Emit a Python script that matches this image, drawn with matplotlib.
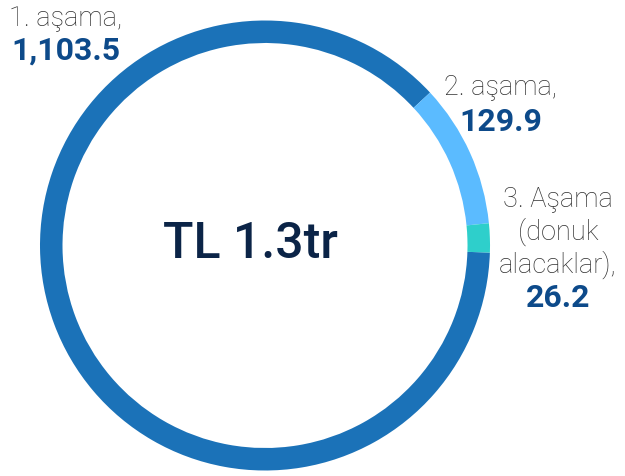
import matplotlib
matplotlib.use("Agg")
import matplotlib.pyplot as plt

# Data
stages = ["1. aşama,", "2. aşama,", "3. Aşama\n(donuk\nalacaklar),"]
values = [1103.5, 129.9, 26.2]
value_labels = ["1,103.5", "129.9", "26.2"]
total_label = "TL 1.3tr"

colors = ["#1b72b8", "#5bbbff", "#2ecfcb"]
label_color = "#333333"
value_color = "#0d4a8a"
center_color = "#0b2447"

W, H = 625, 476
fig = plt.figure(figsize=(W / 100, H / 100), dpi=100)
ax = fig.add_axes([0, 0, 1, 1])

cx, cy = 265, H - 245.5
R = 225
ax.pie(values, colors=colors, startangle=-1.8, counterclock=False,
       center=(cx, cy), radius=R, frame=True,
       wedgeprops=dict(width=22.5, linewidth=0))
ax.set_xlim(0, W)
ax.set_ylim(0, H)
ax.set_aspect("equal")
ax.axis("off")

light = dict(family="Roboto", weight="light", color=label_color, fontsize=19.5)
bold = dict(family="Roboto", weight="bold", color=value_color, fontsize=23)

# (x_center, first-line baseline from top, value baseline from top)
label_pos = [(66, 26, 60), (501, 95, 131), (558, 207, 307)]
line_step = 33

for stage, vlab, (x, yb, yv) in zip(stages, value_labels, label_pos):
    for i, line in enumerate(stage.split("\n")):
        ax.text(x, H - (yb + i * line_step), line, ha="center",
                va="baseline", **light)
    ax.text(x, H - yv, vlab, ha="center", va="baseline", **bold)

ax.text(250, H - 258, total_label, ha="center", va="baseline",
        family="Roboto", weight="medium", color=center_color, fontsize=36)

fig.savefig("out.png", dpi=100)
